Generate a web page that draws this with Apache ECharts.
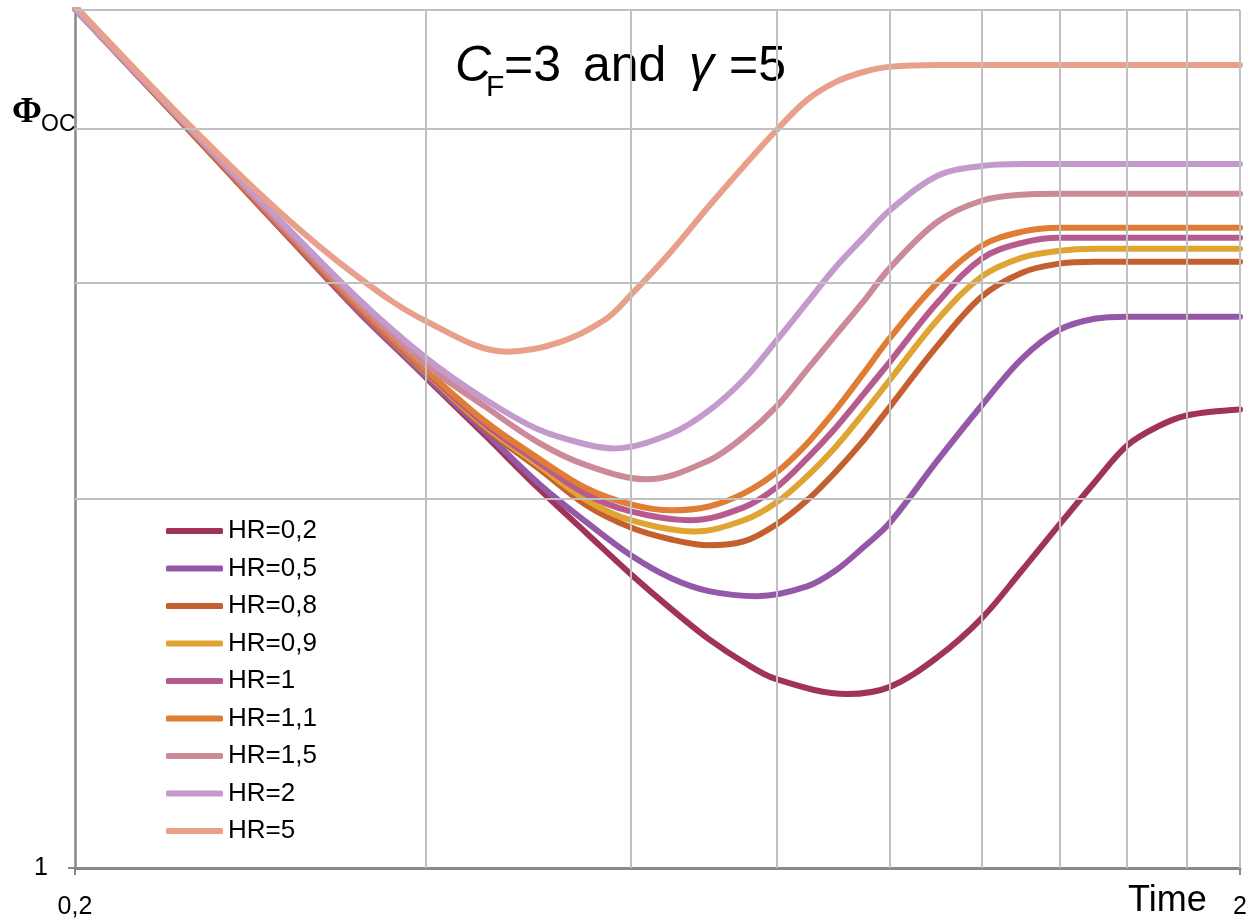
<!DOCTYPE html>
<html>
<head>
<meta charset="utf-8">
<script src="https://cdn.jsdelivr.net/npm/echarts@6/dist/echarts.min.js"></script>
<style>html,body{margin:0;padding:0;background:#fff}#c{width:1250px;height:923px}</style>
</head>
<body>
<div id="c"></div>
<script>
// Time values (x, log scale) - common sampling
const times = [0.2,0.25,0.3,0.35,0.4,0.45,0.5,0.55,0.6,0.65,0.7,0.75,0.8,0.85,0.9,0.95,1.0,1.1,1.2,1.3,1.4,1.5,1.6,1.7,1.8,2.0];
// Per-series sampling where the curve has its minimum between common samples
const t02 = [0.2,0.25,0.3,0.35,0.4,0.45,0.5,0.55,0.6,0.65,0.7,0.75,0.8,0.92,1.0,1.1,1.2,1.3,1.4,1.5,1.6,1.7,1.8,2.0];
const t05 = [0.2,0.25,0.3,0.35,0.4,0.45,0.5,0.55,0.6,0.65,0.7,0.77,0.85,0.9,0.95,1.0,1.1,1.2,1.3,1.4,1.5,1.6,1.8,2.0];
const t09 = [0.2,0.25,0.3,0.35,0.4,0.45,0.5,0.55,0.6,0.68,0.75,0.8,0.85,0.9,0.95,1.0,1.1,1.2,1.3,1.4,1.5,1.6,1.7,1.8,2.0];
const t10 = [0.2,0.25,0.3,0.35,0.4,0.45,0.5,0.55,0.6,0.675,0.75,0.8,0.85,0.9,0.95,1.0,1.1,1.2,1.3,1.4,1.5,1.6,1.7,1.8,2.0];
const t15 = [0.2,0.25,0.3,0.35,0.4,0.45,0.5,0.55,0.62,0.7,0.75,0.8,0.85,0.9,0.95,1.0,1.1,1.2,1.3,1.4,1.5,1.6,1.8,2.0];
const t20 = [0.2,0.25,0.3,0.35,0.4,0.45,0.5,0.55,0.58,0.65,0.7,0.75,0.8,0.85,0.9,0.95,1.0,1.1,1.2,1.3,1.4,1.6,1.8,2.0];
const t50 = [0.2,0.25,0.3,0.35,0.4,0.47,0.52,0.57,0.6,0.65,0.7,0.75,0.8,0.85,0.9,0.95,1.0,1.1,1.2,1.4,1.6,1.8,2.0];

// Phi_OC values per HR (y, log scale)
const hr02 = [5.01,4.00,3.33,2.85,2.51,2.251,2.038,1.873,1.735,1.625,1.536,1.471,1.425,1.386,1.404,1.485,1.597,1.748,1.905,2.061,2.209,2.289,2.337,2.363];
const hr05 = [5.01,4.00,3.32,2.84,2.514,2.264,2.057,1.912,1.798,1.722,1.681,1.665,1.696,1.748,1.825,1.909,2.148,2.381,2.600,2.745,2.802,2.813,2.813,2.813];
const hr08 = [5.01,4.00,3.32,2.85,2.528,2.281,2.116,1.974,1.894,1.852,1.832,1.845,1.905,1.993,2.104,2.229,2.372,2.664,2.920,3.055,3.107,3.118,3.118,3.118,3.118,3.118];
const hr09 = [5.01,4.01,3.33,2.86,2.533,2.289,2.128,1.993,1.920,1.880,1.920,1.985,2.085,2.205,2.346,2.495,2.797,3.032,3.142,3.183,3.195,3.195,3.195,3.195,3.195];
const hr10 = [5.01,4.01,3.33,2.86,2.538,2.298,2.140,2.015,1.952,1.920,1.967,2.042,2.156,2.285,2.431,2.581,2.888,3.136,3.231,3.262,3.262,3.262,3.262,3.262,3.262];
const hr11 = [5.01,4.01,3.34,2.87,2.547,2.311,2.156,2.038,1.978,1.956,1.970,2.019,2.100,2.217,2.363,2.528,2.699,2.998,3.213,3.299,3.324,3.324,3.324,3.324,3.324,3.324];
const hr15 = [5.01,4.02,3.35,2.89,2.571,2.376,2.221,2.128,2.073,2.148,2.246,2.376,2.547,2.720,2.893,3.078,3.361,3.496,3.536,3.542,3.542,3.542,3.542,3.542];
const hr20 = [5.01,4.02,3.37,2.91,2.605,2.408,2.276,2.213,2.197,2.259,2.358,2.500,2.689,2.888,3.089,3.262,3.431,3.664,3.732,3.746,3.746,3.746,3.746,3.746];
const hr50 = [5.04,4.04,3.42,3.03,2.79,2.634,2.679,2.797,2.93,3.18,3.46,3.73,3.99,4.224,4.369,4.451,4.494,4.51,4.51,4.51,4.51,4.51,4.51];

const seriesNames = ['HR=0,2','HR=0,5','HR=0,8','HR=0,9','HR=1','HR=1,1','HR=1,5','HR=2','HR=5'];
const seriesTimes = [t02,t05,times,t09,t10,times,t15,t20,t50];
const seriesValues = [hr02,hr05,hr08,hr09,hr10,hr11,hr15,hr20,hr50];
const seriesColors = ['#A0335A','#9558A8','#C45F2F','#E0A433','#B75B8F','#E07D35','#CC8A98','#C49ACD','#E8A08B'];

// Axis ticks / labels
const xTickValues = [0.2, 2];
const xTickLabels = ['0,2', '2'];
const yTickValues = [1];
const yTickLabels = ['1'];
// Grid line positions
const xGridValues = [0.4,0.6,0.8,1.0,1.2,1.4,1.6,1.8,2.0];
const yGridValues = [2,3,4,5];

function pick(vals, labels, v) {
  const i = vals.findIndex(t => Math.abs(t - v) < 1e-6 * Math.max(1, Math.abs(t)));
  return i >= 0 ? labels[i] : '';
}

const chart = echarts.init(document.getElementById('c'), null, {renderer: 'canvas'});

const series = [{
  type: 'line',
  name: '_grid',
  data: [],
  silent: true,
  z: 1,
  markLine: {
    silent: true,
    animation: false,
    symbol: ['none', 'none'],
    label: {show: false},
    emphasis: {disabled: true},
    lineStyle: {color: '#c0c0c0', width: 2, type: 'solid'},
    data: [
      ...xGridValues.map(v => ({xAxis: v})),
      ...yGridValues.map(v => ({yAxis: v}))
    ]
  }
}];

seriesNames.forEach((n, i) => {
  const ts = seriesTimes[i];
  series.push({
    type: 'line',
    name: n,
    data: ts.map((t, j) => [t, seriesValues[i][j]]),
    showSymbol: false,
    symbol: 'none',
    smooth: 0.35,
    z: 3,
    lineStyle: {width: 6, color: seriesColors[i], cap: 'round', join: 'round'},
    itemStyle: {color: seriesColors[i]},
    emphasis: {disabled: true}
  });
});

chart.setOption({
  animation: false,
  backgroundColor: '#ffffff',
  textStyle: {fontFamily: 'Liberation Sans'},
  grid: {left: 75, right: 10, top: 10, bottom: 55, containLabel: false},
  xAxis: {
    type: 'log',
    logBase: 10,
    min: 0.2,
    max: 2,
    axisLine: {show: true, onZero: false, lineStyle: {color: '#888888', width: 3}},
    axisTick: {show: true, customValues: xTickValues, length: 7, lineStyle: {color: '#888888', width: 2}},
    axisLabel: {
      show: true, customValues: xTickValues, margin: 27, fontSize: 25, color: '#000',
      fontFamily: 'Liberation Sans',
      formatter: v => pick(xTickValues, xTickLabels, v)
    },
    splitLine: {show: false},
    minorTick: {show: false},
    minorSplitLine: {show: false}
  },
  yAxis: {
    type: 'log',
    logBase: 10,
    min: 1,
    max: 5,
    axisLine: {show: true, onZero: false, lineStyle: {color: '#888888', width: 2.5}},
    axisTick: {show: true, customValues: yTickValues, length: 7, lineStyle: {color: '#888888', width: 2}},
    axisLabel: {
      show: true, customValues: yTickValues, margin: 27, fontSize: 25, color: '#000',
      fontFamily: 'Liberation Sans',
      formatter: v => pick(yTickValues, yTickLabels, v)
    },
    splitLine: {show: false},
    minorTick: {show: false},
    minorSplitLine: {show: false}
  },
  legend: {
    show: true,
    orient: 'vertical',
    left: 166,
    top: 518,
    padding: 0,
    data: seriesNames,
    icon: 'roundRect',
    itemWidth: 57,
    itemHeight: 6,
    itemGap: 11.5,
    selectedMode: false,
    itemStyle: {borderWidth: 0},
    textStyle: {fontSize: 26, lineHeight: 26, color: '#000', fontFamily: 'Liberation Sans'}
  },
  graphic: [
    {type: 'text', x: 455, y: 67, silent: true, style: {text: 'C', font: 'italic 50px "Liberation Sans"', fill: '#000', align: 'left', verticalAlign: 'middle'}},
    {type: 'text', x: 486, y: 88, silent: true, style: {text: 'F', font: '30px "Liberation Sans"', fill: '#000', align: 'left', verticalAlign: 'middle'}},
    {type: 'text', x: 504, y: 67, silent: true, style: {text: '=3', font: '50px "Liberation Sans"', fill: '#000', align: 'left', verticalAlign: 'middle'}},
    {type: 'text', x: 583, y: 67, silent: true, style: {text: 'and', font: '50px "Liberation Sans"', fill: '#000', align: 'left', verticalAlign: 'middle'}},
    {type: 'text', x: 689, y: 67, silent: true, style: {text: 'γ', font: 'italic 50px "Liberation Sans"', fill: '#000', align: 'left', verticalAlign: 'middle'}},
    {type: 'text', x: 729, y: 67, silent: true, style: {text: '=5', font: '50px "Liberation Sans"', fill: '#000', align: 'left', verticalAlign: 'middle'}},
    {type: 'text', x: 12, y: 113, silent: true, style: {text: 'Φ', font: 'bold 36px "Liberation Serif"', fill: '#000', align: 'left', verticalAlign: 'middle'}},
    {type: 'text', x: 41, y: 125, silent: true, style: {text: 'OC', font: '23px "Liberation Sans"', fill: '#000', align: 'left', verticalAlign: 'middle'}},
    {type: 'text', x: 1128, y: 901, silent: true, style: {text: 'Time', font: '36px "Liberation Sans"', fill: '#000', align: 'left', verticalAlign: 'middle'}}
  ],
  series: series
});
</script>
</body>
</html>
